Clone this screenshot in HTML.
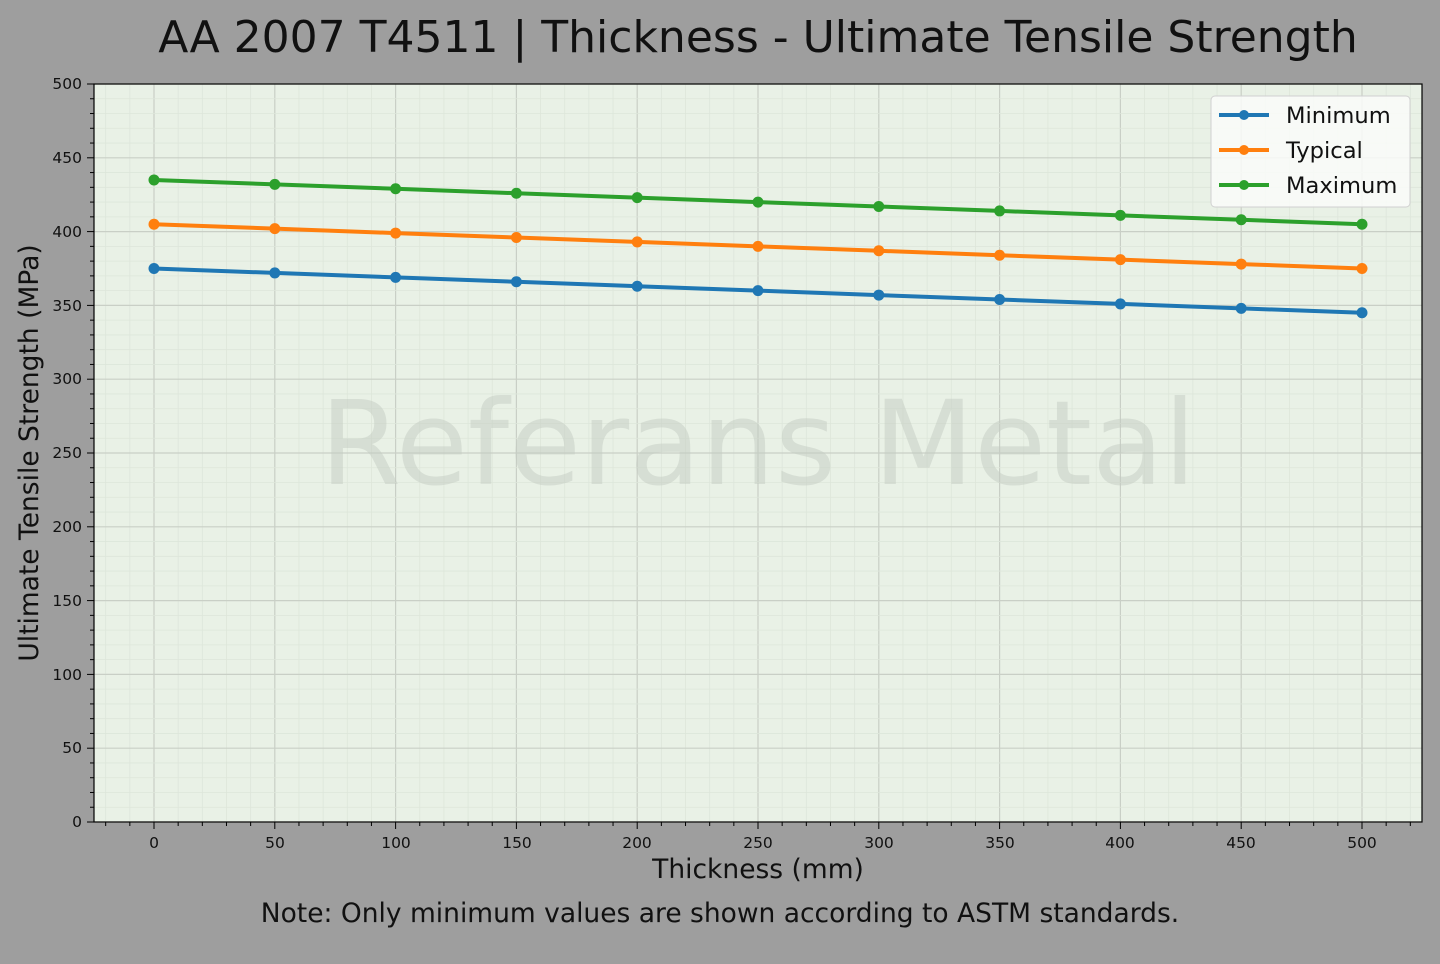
<!DOCTYPE html>
<html><head><meta charset="utf-8"><style>
body{margin:0;background:#9e9e9e;width:1440px;height:960px;overflow:hidden;font-family:"DejaVu Sans","Liberation Sans",sans-serif}
svg text{font-family:"DejaVu Sans","Liberation Sans",sans-serif}
</style></head><body>
<svg id="s" width="1440" height="960" xmlns="http://www.w3.org/2000/svg">
<rect width="1440" height="960" fill="#9e9e9e"/>
<rect x="94" y="84" width="1328" height="738" fill="#e9f1e6"/>
<g id="grid"></g>
<text x="758" y="452" font-size="117" fill="#c4ccc2" fill-opacity="0.5" text-anchor="middle" dominant-baseline="middle">Referans Metal</text>
<g id="series"></g>
<rect x="94" y="84" width="1328" height="738" fill="none" stroke="#000" stroke-width="1.2"/>
<g id="ticks"></g>
<g font-size="15.5" fill="#111" text-anchor="middle">
<text x="154" y="848">0</text><text x="275" y="848">50</text><text x="396" y="848">100</text><text x="517" y="848">150</text><text x="637" y="848">200</text><text x="758" y="848">250</text><text x="879" y="848">300</text><text x="1000" y="848">350</text><text x="1120" y="848">400</text><text x="1241" y="848">450</text><text x="1362" y="848">500</text>
</g>
<g font-size="15.5" fill="#111" text-anchor="end">
<text x="82" y="827">0</text><text x="82" y="753">50</text><text x="82" y="680">100</text><text x="82" y="606">150</text><text x="82" y="532">200</text><text x="82" y="458">250</text><text x="82" y="384">300</text><text x="82" y="311">350</text><text x="82" y="237">400</text><text x="82" y="163">450</text><text x="82" y="89">500</text>
</g>
<text x="758" y="52" font-size="44" text-anchor="middle" fill="#111">AA 2007 T4511 | Thickness - Ultimate Tensile Strength</text>
<text x="758" y="878" font-size="26.5" text-anchor="middle" fill="#111">Thickness (mm)</text>
<text transform="translate(38,453) rotate(-90)" font-size="26.5" text-anchor="middle" fill="#111">Ultimate Tensile Strength (MPa)</text>
<text x="720" y="922" font-size="26.5" text-anchor="middle" fill="#111">Note: Only minimum values are shown according to ASTM standards.</text>
<rect x="1211" y="96" width="199" height="111" rx="4" fill="#fafcf9" fill-opacity="0.85" stroke="#d0d0d0"/>
<g stroke-width="4">
<line x1="1219" y1="115" x2="1269" y2="115" stroke="#1f77b4"/><circle cx="1244" cy="115" r="5" fill="#1f77b4"/>
<line x1="1219" y1="150" x2="1269" y2="150" stroke="#ff7f0e"/><circle cx="1244" cy="150" r="5" fill="#ff7f0e"/>
<line x1="1219" y1="185" x2="1269" y2="185" stroke="#2ca02c"/><circle cx="1244" cy="185" r="5" fill="#2ca02c"/>
</g>
<g font-size="22.6" fill="#111"><text x="1286" y="123">Minimum</text><text x="1286" y="158">Typical</text><text x="1286" y="193">Maximum</text></g>
</svg>
<script>
var NS="http://www.w3.org/2000/svg";
function X(v){return 154+v*2.416}function Y(v){return 822-v*1.476}
function el(p,t,a){var e=document.createElementNS(NS,t);for(var k in a)e.setAttribute(k,a[k]);p.appendChild(e);return e}
var g=document.getElementById('grid'),tk=document.getElementById('ticks'),sr=document.getElementById('series');
for(var v=-20;v<=520;v+=10){var x=X(v);if(x<94||x>1422)continue;var maj=v%50==0;
el(g,'line',{x1:x,x2:x,y1:84,y2:822,stroke:maj?'#c9cfc6':'#dde6da','stroke-width':maj?1.2:0.8});
el(tk,'line',{x1:x,x2:x,y1:822,y2:maj?829:826,stroke:'#000','stroke-width':1});}
for(var v=0;v<=500;v+=10){var y=Y(v);var maj=v%50==0;
el(g,'line',{x1:94,x2:1422,y1:y,y2:y,stroke:maj?'#c9cfc6':'#dde6da','stroke-width':maj?1.2:0.8});
el(tk,'line',{x1:maj?87:90,x2:94,y1:y,y2:y,stroke:'#000','stroke-width':1});}
[[375,'#1f77b4'],[405,'#ff7f0e'],[435,'#2ca02c']].forEach(function(s){var pts=[];
for(var i=0;i<=10;i++)pts.push(X(i*50)+','+Y(s[0]-3*i));
el(sr,'polyline',{points:pts.join(' '),fill:'none',stroke:s[1],'stroke-width':4});
for(var i=0;i<=10;i++)el(sr,'circle',{cx:X(i*50),cy:Y(s[0]-3*i),r:5.5,fill:s[1]});});
</script>
</body></html>
